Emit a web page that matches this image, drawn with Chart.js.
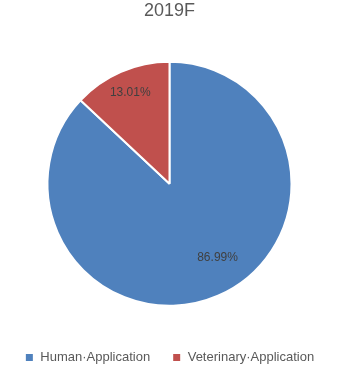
<!DOCTYPE html>
<html>
<head>
<meta charset="utf-8">
<script src="https://cdn.jsdelivr.net/npm/chart.js@4"></script>
<style>
  html, body { margin: 0; padding: 0; background: #fff; }
  #wrap { width: 362px; height: 368px; }
</style>
</head>
<body>
<div id="wrap"><canvas id="pieChart"></canvas></div>
<script>
const chartTitle = '2019F';
const categories = ['Human\u00b7Application', 'Veterinary\u00b7Application'];
const shares = [86.99, 13.01];
const sliceColors = ['#4F81BD', '#C0504D'];

// per-slice label placement (fraction of radius, angle shift in radians)
const labelRadius = [0.72, 0.81];
const labelShift = [-0.17, 0];

const sliceLabels = {
  id: 'sliceLabels',
  afterDatasetsDraw(chart) {
    const ctx = chart.ctx;
    const meta = chart.getDatasetMeta(0);
    ctx.save();
    ctx.font = '12px "Liberation Sans", Arial, sans-serif';
    ctx.fillStyle = '#404040';
    ctx.textAlign = 'center';
    ctx.textBaseline = 'middle';
    meta.data.forEach((arc, i) => {
      const p = arc.getProps(['x', 'y', 'startAngle', 'endAngle', 'outerRadius'], true);
      const mid = (p.startAngle + p.endAngle) / 2 + labelShift[i];
      const r = p.outerRadius * labelRadius[i];
      ctx.fillText(shares[i].toFixed(2) + '%', p.x + Math.cos(mid) * r, p.y + Math.sin(mid) * r);
    });
    ctx.restore();
  }
};

window.addEventListener('load', () => {
  const ctx = document.getElementById('pieChart').getContext('2d');
  new Chart(ctx, {
    type: 'pie',
    data: {
      labels: categories,
      datasets: [{
        data: shares,
        backgroundColor: sliceColors,
        borderColor: '#ffffff',
        borderWidth: 2,
        radius: 122
      }]
    },
    options: {
      responsive: true,
      maintainAspectRatio: false,
      animation: false,
      layout: { padding: { left: 0, right: 23, top: 0, bottom: -6 } },
      plugins: {
        title: {
          display: true,
          text: chartTitle,
          color: '#595959',
          font: { family: '"Liberation Sans", Arial, sans-serif', size: 18, weight: 'normal' },
          padding: { top: 0, bottom: 17 }
        },
        legend: {
          position: 'bottom',
          labels: {
            color: '#595959',
            font: { family: '"Liberation Sans", Arial, sans-serif', size: 13 },
            boxWidth: 9,
            boxHeight: 9,
            padding: 22
          }
        },
        tooltip: { enabled: false }
      }
    },
    plugins: [sliceLabels]
  });
});
</script>
</body>
</html>
